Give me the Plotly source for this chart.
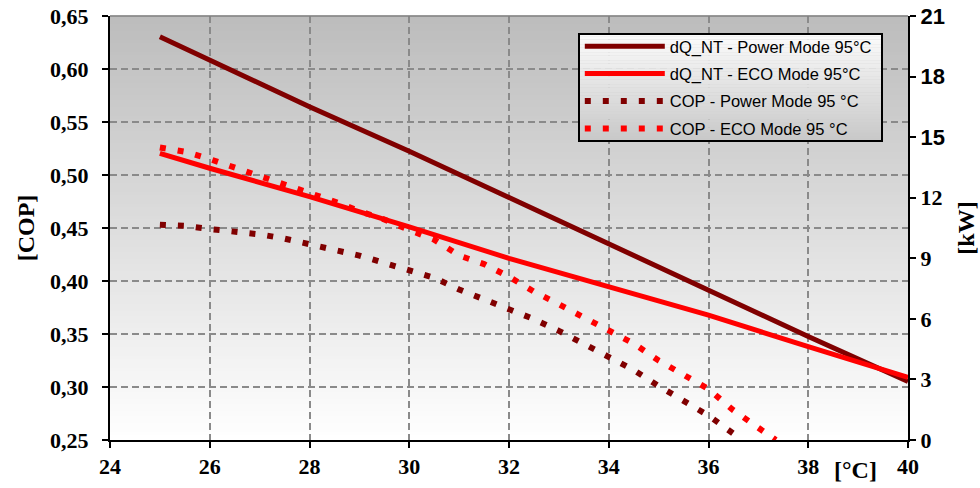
import plotly.graph_objects as go

# ---------------- data ----------------
temp_dq = [25, 26, 28, 30, 32, 34, 36, 38, 40]
dq_power = [19.97, 18.83, 16.51, 14.30, 12.00, 9.70, 7.40, 5.13, 2.90]
dq_eco = [14.20, 13.46, 12.05, 10.56, 9.00, 7.59, 6.19, 4.62, 3.10]

temp_cop_power = [25, 25.5, 26, 26.5, 27, 27.5, 28, 28.5, 29, 29.5, 30, 30.5,
                  31, 31.5, 32, 32.5, 33, 33.5, 34, 34.5, 35, 35.5, 36, 36.5, 36.65]
cop_power = [0.453, 0.452, 0.449, 0.447, 0.444, 0.440, 0.435, 0.430, 0.424, 0.417,
             0.410, 0.403, 0.392, 0.383, 0.374, 0.364, 0.353, 0.341, 0.328, 0.316,
             0.301, 0.287, 0.273, 0.256, 0.250]

temp_cop_eco = [25, 25.5, 26, 26.5, 27, 27.5, 28, 28.5, 29, 29.5, 30, 30.5,
                31, 31.5, 32, 32.5, 33, 33.5, 34, 34.5, 35, 35.5, 36, 36.5, 37, 37.35]
cop_eco = [0.526, 0.522, 0.515, 0.507, 0.499, 0.491, 0.484, 0.475, 0.466, 0.458,
           0.448, 0.439, 0.424, 0.416, 0.404, 0.390, 0.378, 0.366, 0.353, 0.341,
           0.325, 0.312, 0.298, 0.278, 0.261, 0.250]

names = ["dQ_NT - Power Mode 95°C", "dQ_NT - ECO Mode 95°C",
         "COP - Power Mode 95 °C", "COP - ECO Mode 95 °C"]

x_ticks = [24, 26, 28, 30, 32, 34, 36, 38, 40]
kw_ticks = [0, 3, 6, 9, 12, 15, 18, 21]
kw_ticktext = ["0", "3", "6", "9", "12",
               '<span style="font-family:Liberation Sans">15</span>',
               '<span style="font-family:Liberation Sans">18</span>',
               '<span style="font-family:Liberation Sans">21</span>']

DARK = "#800000"
RED = "#ff0000"
SERIF = "Liberation Serif"
SANS = "Liberation Sans"

fig = go.Figure()
fig.add_trace(go.Scatter(x=temp_dq, y=dq_power, name=names[0], yaxis="y2",
                         mode="lines", line=dict(color=DARK, width=5),
                         legendgroup="a"))
fig.add_trace(go.Scatter(x=temp_dq, y=dq_eco, name=names[1], yaxis="y2",
                         mode="lines", line=dict(color=RED, width=5),
                         legendgroup="b"))
fig.add_trace(go.Scatter(x=temp_cop_power, y=cop_power, name=names[2], yaxis="y",
                         mode="lines", line=dict(color=DARK, width=6, dash="6px,12px"),
                         legendgroup="c"))
fig.add_trace(go.Scatter(x=temp_cop_eco, y=cop_eco, name=names[3], yaxis="y",
                         mode="lines", line=dict(color=RED, width=6, dash="6px,12px"),
                         legendgroup="d"))

# gradient plot background
shapes = []
n = 106
for i in range(n):
    t = (i + 0.5) / n  # 0 at top
    g = int(round(188 + (255 - 188) * t))
    col = f"rgb({g},{g},{g})"
    shapes.append(dict(type="rect", xref="paper", yref="paper",
                       x0=0, x1=1, y0=1 - (i + 1) / n, y1=1 - i / n + 0.001,
                       fillcolor=col, line=dict(width=0), layer="below"))
# top border
shapes.append(dict(type="line", xref="paper", yref="paper", x0=0, x1=1, y0=1, y1=1,
                   line=dict(color="#808080", width=1.5), layer="above"))

# legend box with gradient
lx0, lx1 = (579 - 110) / 798, (882 - 110) / 798
ly1, ly0 = (440 - 34) / 424, (440 - 141) / 424
m = 40
for i in range(m):
    t = (i + 0.5) / m
    g = int(round(252 - (252 - 200) * t))
    col = f"rgb({g},{g},{g})"
    shapes.append(dict(type="rect", xref="paper", yref="paper",
                       x0=lx0, x1=lx1,
                       y0=ly1 - (ly1 - ly0) * (i + 1) / m,
                       y1=ly1 - (ly1 - ly0) * i / m + 0.0005,
                       fillcolor=col, line=dict(width=0), layer="above"))
shapes.append(dict(type="rect", xref="paper", yref="paper",
                   x0=lx0, x1=lx1, y0=ly0, y1=ly1,
                   fillcolor="rgba(0,0,0,0)", line=dict(color="black", width=2),
                   layer="above"))

fig.update_layout(
    width=980, height=488,
    margin=dict(l=110, r=72, t=16, b=48, autoexpand=False),
    paper_bgcolor="white",
    plot_bgcolor="rgba(0,0,0,0)",
    separators=",.",
    shapes=shapes,
    showlegend=True,
    legend=dict(x=lx0 + 0.001, y=ly1 + 0.012, xanchor="left", yanchor="top",
                bgcolor="rgba(0,0,0,0)", borderwidth=0,
                font=dict(family=SANS, size=16.5, color="black"),
                itemwidth=80, tracegroupgap=3, traceorder="grouped"),
    xaxis=dict(range=[24, 40], tickvals=x_ticks, showgrid=True,
               gridcolor="#8a8a8a", griddash="7px,4px", gridwidth=1.5,
               showline=True, linecolor="black", linewidth=2,
               ticks="outside", ticklen=6, tickwidth=2, tickcolor="black",
               tickfont=dict(family=SERIF, size=22, color="black", weight="bold"),
               zeroline=False),
    yaxis=dict(range=[0.25, 0.65], dtick=0.05, tickformat=".2f", showgrid=True,
               gridcolor="#8a8a8a", griddash="7px,4px", gridwidth=1.5,
               showline=True, linecolor="black", linewidth=2,
               ticks="outside", ticklen=6, tickwidth=2, tickcolor="black",
               ticklabelstandoff=9,
               tickfont=dict(family=SERIF, size=22, color="black", weight="bold"),
               title=dict(text="[COP]", standoff=9,
                          font=dict(family=SERIF, size=24, color="black", weight="bold")),
               zeroline=False),
    yaxis2=dict(range=[0, 21], tickvals=kw_ticks, ticktext=kw_ticktext,
                overlaying="y", side="right", showgrid=False,
                showline=True, linecolor="black", linewidth=2,
                ticks="outside", ticklen=6, tickwidth=2, tickcolor="black",
                tickfont=dict(family=SERIF, size=22, color="black", weight="bold"),
                title=dict(text="[kW]", standoff=13,
                           font=dict(family=SERIF, size=24, color="black", weight="bold")),
                zeroline=False),
    annotations=[dict(text="[°C]", xref="paper", yref="paper",
                      x=(855 - 110) / 798, y=-(470 - 440) / 424,
                      xanchor="center", yanchor="middle", showarrow=False,
                      font=dict(family=SERIF, size=24, color="black", weight="bold"))],
)

fig.write_html("out.html",
               config={"displayModeBar": False},
               post_script="document.body.style.margin='0';"
                           "document.body.style.overflow='hidden';")
